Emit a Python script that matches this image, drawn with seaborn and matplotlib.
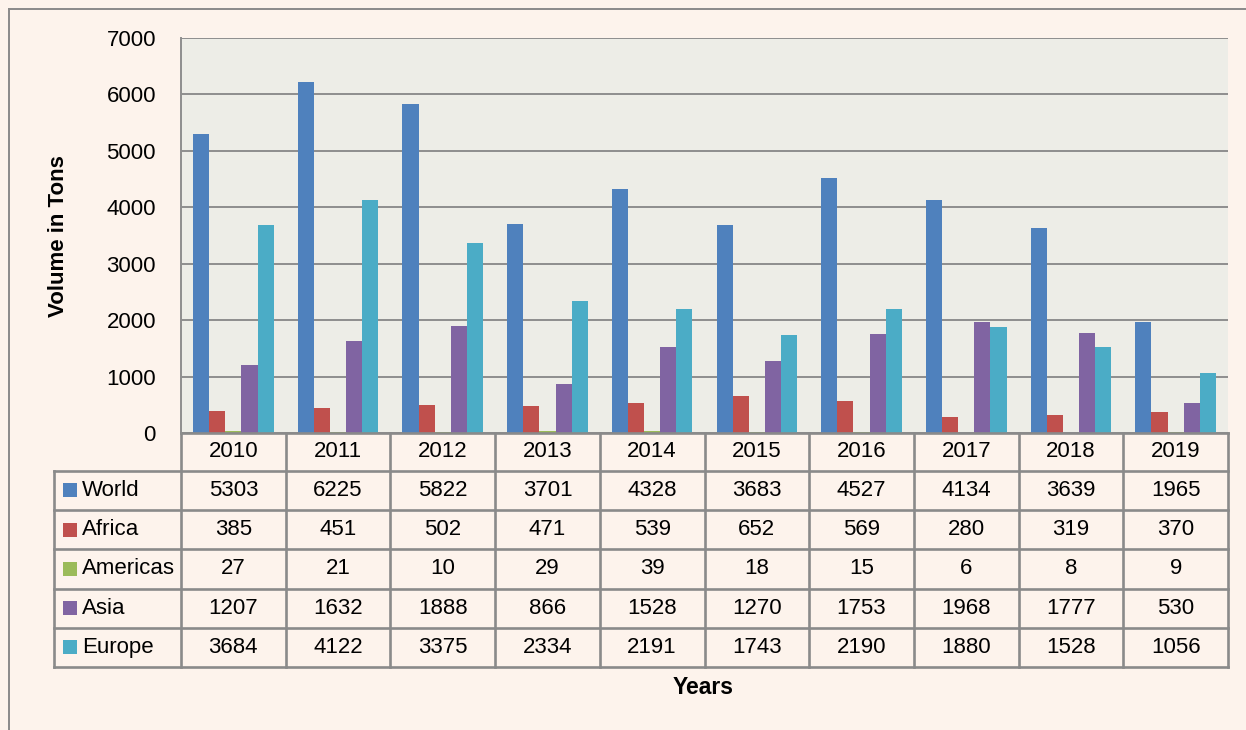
import matplotlib
matplotlib.use('Agg')
import matplotlib.pyplot as plt
import matplotlib.transforms as mtransforms
from matplotlib import font_manager
from matplotlib.patches import Rectangle
import pandas as pd
import seaborn as sns

# Data
years = ['2010', '2011', '2012', '2013', '2014', '2015', '2016', '2017', '2018', '2019']
regions = ['World', 'Africa', 'Americas', 'Asia', 'Europe']
world = [5303, 6225, 5822, 3701, 4328, 3683, 4527, 4134, 3639, 1965]
africa = [385, 451, 502, 471, 539, 652, 569, 280, 319, 370]
americas = [27, 21, 10, 29, 39, 18, 15, 6, 8, 9]
asia = [1207, 1632, 1888, 866, 1528, 1270, 1753, 1968, 1777, 530]
europe = [3684, 4122, 3375, 2334, 2191, 1743, 2190, 1880, 1528, 1056]
colors = ['#4F81BD', '#C0504D', '#9BBB59', '#8064A2', '#4BACC6']

series = {'World': world, 'Africa': africa, 'Americas': americas, 'Asia': asia, 'Europe': europe}
rows = []
for r in regions:
    for y, v in zip(years, series[r]):
        rows.append({'Year': y, 'Region': r, 'Volume': v})
df = pd.DataFrame(rows)

plt.rcParams['font.family'] = ['Liberation Sans', 'DejaVu Sans']

# narrow font for ticks and table, like Arial Narrow
names = {f.name for f in font_manager.fontManager.ttflist}
if 'Liberation Sans Narrow' in names:
    nfont = dict(family=['Liberation Sans Narrow', 'Liberation Sans'], fontsize=19)
else:
    nfont = dict(family=['Liberation Sans', 'DejaVu Sans'], fontsize=16, stretch='condensed')

W, H = 1246, 730
fig = plt.figure(figsize=(W / 100, H / 100), dpi=100)
fig.patch.set_facecolor('#FDF3EC')

# plot area in pixels
px_l, px_r, px_t, px_b = 181, 1228, 38, 433
ax = fig.add_axes([px_l / W, 1 - px_b / H, (px_r - px_l) / W, (px_b - px_t) / H])
ax.set_facecolor('#EDEDE7')

sns.barplot(data=df, x='Year', y='Volume', hue='Region', hue_order=regions,
            order=years, palette=colors, width=0.77, saturation=1,
            legend=False, ax=ax, edgecolor='none')

ax.set_ylim(0, 7000)
ax.set_xlim(-0.5, len(years) - 0.5)
ax.set_yticks(range(0, 7001, 1000))
ax.set_yticklabels([str(v) for v in range(0, 7001, 1000)], **nfont)
ax.tick_params(axis='y', length=0, pad=18)
ax.set_xticks([])
ax.set_xlabel('')
ax.set_ylabel('')
ax.yaxis.grid(True, color='#8E8E8E', linewidth=1.4)
ax.set_axisbelow(True)
for s in ['top', 'right', 'bottom']:
    ax.spines[s].set_visible(False)
ax.spines['left'].set_color('#8E8E8E')
ax.spines['left'].set_linewidth(1.4)

# data table below the plot (x in data units, y in axes fraction)
ph = px_b - px_t
colw = (px_r - px_l) / len(years)
def yfrac(py):
    return (px_b - py) / ph
trans = mtransforms.blended_transform_factory(ax.transData, ax.transAxes)
row_edges = [433, 470.7, 510, 549.3, 588.5, 627.8, 667]
left_x = (54 - px_l) / colw - 0.5
lc = '#8A8A8A'
lw = 1.9

# horizontal lines
ax.plot([-0.5, len(years) - 0.5], [yfrac(row_edges[0])] * 2, transform=trans,
        color=lc, lw=lw, clip_on=False)
for py in row_edges[1:]:
    ax.plot([left_x, len(years) - 0.5], [yfrac(py)] * 2, transform=trans,
            color=lc, lw=lw, clip_on=False)
# vertical lines
for i in range(len(years) + 1):
    ax.plot([i - 0.5, i - 0.5], [yfrac(row_edges[0]), yfrac(row_edges[-1])],
            transform=trans, color=lc, lw=lw, clip_on=False)
ax.plot([left_x, left_x], [yfrac(row_edges[1]), yfrac(row_edges[-1])],
        transform=trans, color=lc, lw=lw, clip_on=False)

# header years
hy = yfrac((row_edges[0] + row_edges[1]) / 2)
for i, y in enumerate(years):
    ax.text(i, hy, y, transform=trans, ha='center', va='center', **nfont)

# rows
for k, r in enumerate(regions):
    cy = yfrac((row_edges[k + 1] + row_edges[k + 2]) / 2)
    sq = 14 / ph
    ax.add_patch(Rectangle(((63 - px_l) / colw - 0.5, cy - sq / 2), 14 / colw, sq,
                           transform=trans, facecolor=colors[k], edgecolor='none',
                           clip_on=False))
    ax.text((82 - px_l) / colw - 0.5, cy, r, transform=trans, ha='left',
            va='center', **nfont)
    for i, v in enumerate(series[r]):
        ax.text(i, cy, str(v), transform=trans, ha='center', va='center', **nfont)

# axis titles
fig.text(703 / W, 1 - 687 / H, 'Years', ha='center', va='center',
         fontsize=16.5, fontweight='bold')
fig.text(59 / W, 1 - 236 / H, 'Volume in Tons', ha='center', va='center',
         fontsize=16, fontweight='bold', rotation=90)

# outer chart border
fig.add_artist(plt.Line2D([9 / W, 9 / W], [0, 1 - 9 / H], color='#8A8A8A', lw=1.4))
fig.add_artist(plt.Line2D([9 / W, 1], [1 - 9 / H, 1 - 9 / H], color='#8A8A8A', lw=1.4))

fig.savefig('out.png', dpi=100, facecolor=fig.get_facecolor())
